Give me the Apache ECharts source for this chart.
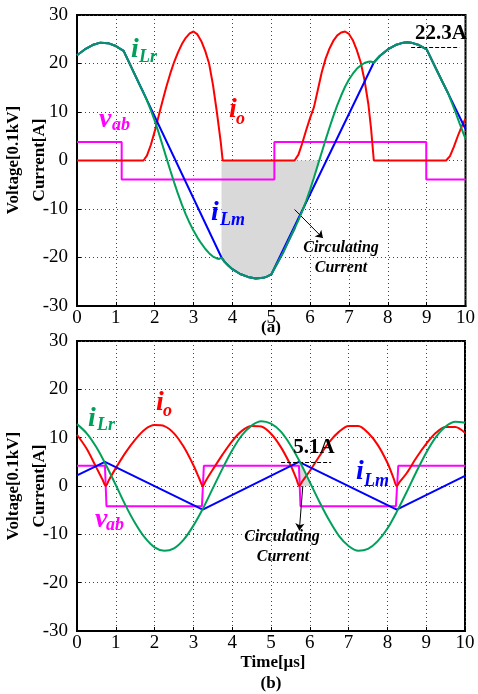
<!DOCTYPE html>
<html>
<head>
<meta charset="utf-8">
<title>LLC waveforms</title>
<script src="https://cdn.jsdelivr.net/npm/echarts@6/dist/echarts.min.js"></script>
<style>
html, body { margin: 0; padding: 0; background: #fff; }
#charts { width: 478px; height: 694px; }
</style>
</head>
<body>
<div id="charts"></div>
<script>
// ---- (a) ----  [time us, value]
var aLr = [[0,21.7],[0.2,22.9],[0.4,23.8],[0.6,24.3],[0.8,24.2],[1.0,23.6],[1.2,22.6],[1.4,19.2],[1.6,15.8],[1.7,14.2],
	[1.8,12.4],[1.9,10.4],[2.0,8.2],[2.1,5.8],[2.2,3.2],[2.3,0.6],[2.4,-2.0],[2.5,-4.5],[2.6,-6.9],[2.7,-9.1],[2.8,-11.1],
	[2.9,-12.9],[3.0,-14.5],[3.1,-15.9],[3.2,-17.1],[3.3,-18.2],[3.4,-19.1],[3.5,-19.8],[3.6,-20.2],[3.66,-20.3],[3.72,-20.0],
	[3.8,-20.9],[3.9,-21.7],[4.0,-22.4],[4.2,-23.4],[4.4,-24.0],[4.6,-24.35],[4.8,-24.2],[4.9,-23.9],[5.0,-23.5],[5.05,-23.3],
	[5.3,-19.1],[5.5,-15.7],[5.62,-13.7],[5.7,-12.3],[5.8,-10.4],[5.9,-8.3],[6.0,-6.0],[6.1,-3.5],[6.2,-0.9],[6.3,1.7],
	[6.4,4.3],[6.5,6.8],[6.6,9.2],[6.7,11.4],[6.8,13.4],[6.9,15.2],[7.0,16.7],[7.1,17.9],[7.2,18.9],[7.3,19.6],[7.4,20.1],
	[7.5,20.35],[7.56,20.4],[7.64,20.2],[7.8,21.6],[8.0,22.9],[8.2,23.8],[8.4,24.3],[8.5,24.4],[8.6,24.3],[8.8,23.8],[9.0,22.9],
	[9.2,19.6],[9.4,16.3],[9.55,13.9],[9.65,11.9],[9.75,9.8],[9.85,7.6],[9.95,5.5],[10,4.5]];
var aLm = [[0,21.7],[0.2,22.9],[0.4,23.8],[0.6,24.3],[0.8,24.2],[1.0,23.6],[1.2,22.6],[3.72,-20.0],
	[3.8,-20.9],[3.9,-21.7],[4.0,-22.4],[4.2,-23.4],[4.4,-24.0],[4.6,-24.35],[4.8,-24.2],[4.9,-23.9],[5.0,-23.5],[5.05,-23.3],
	[7.64,20.2],[7.8,21.6],[8.0,22.9],[8.2,23.8],[8.4,24.3],[8.5,24.4],[8.6,24.3],[8.8,23.8],[9.0,22.9],[10,6.5]];
var aIo = [[0,0],[1.71,0],[1.8,1.0],[1.9,3.2],[2.0,6.0],[2.1,9.1],[2.2,12.2],[2.3,15.2],[2.4,17.9],[2.5,20.3],[2.6,22.3],
	[2.7,24.0],[2.8,25.3],[2.9,26.2],[3.0,26.6],[3.1,26.0],[3.2,24.6],[3.3,22.6],[3.4,20.0],[3.5,15.6],[3.6,10.0],[3.7,3.8],
	[3.75,0],[5.6,0],[5.7,1.2],[5.8,3.6],[5.9,6.3],[6.0,8.8],[6.1,11.0],[6.2,14.6],[6.3,18.2],[6.4,21.0],[6.5,23.1],[6.6,24.7],
	[6.7,25.8],[6.8,26.4],[6.9,26.6],[7.0,26.1],[7.1,24.8],[7.2,22.8],[7.3,20.3],[7.4,16.6],[7.5,11.6],[7.57,6.5],[7.64,0],
	[9.5,0],[9.6,0.9],[9.7,2.8],[9.8,5.0],[9.9,7.0],[10,8.6]];
var aVab = [[0,3.8],[1.15,3.8],[1.15,-3.9],[5.08,-3.9],[5.08,3.8],[8.99,3.8],[8.99,-3.9],[10,-3.9]];
// time spans where iLr and iLm run together (drawn teal)
var aTogether = [[0, 1.7], [3.72, 5.62], [7.64, 9.55]];

// ---- (b) ----
var bLr = [[0,12.8],[0.25,10.9],[0.5,8.0],[0.75,4.3],[1.0,0.2],[1.25,-4.0],[1.5,-7.7],[1.75,-10.7],[2.0,-12.7],[2.25,-13.4],
	[2.5,-12.9],[2.75,-11.1],[3.0,-8.2],[3.25,-4.6],[3.5,-0.5],[3.75,3.6],[4.0,7.4],[4.25,10.5],[4.5,12.5],[4.75,13.4],
	[5.0,12.9],[5.25,11.3],[5.5,8.5],[5.75,4.9],[6.0,0.8],[6.25,-3.3],[6.5,-7.1],[6.75,-10.3],[7.0,-12.4],[7.25,-13.4],
	[7.5,-13.0],[7.75,-11.4],[8.0,-8.8],[8.25,-5.2],[8.5,-1.2],[8.75,3.0],[9.0,6.9],[9.25,10.1],[9.5,12.3],[9.75,13.3],[10,13.1]];
var bLm = [[0,2.2],[0.72,5.0],[3.24,-4.9],[5.72,5.0],[8.24,-4.9],[10,2.1]];
var bIo = [[0,10.6],[0.25,7.7],[0.5,3.8],[0.66,1.3],[0.74,0],[0.82,1.2],[1.0,3.7],[1.25,6.9],[1.5,9.6],[1.75,11.7],[2.0,12.6],
	[2.25,12.4],[2.5,10.9],[2.75,8.1],[3.0,4.3],[3.16,1.4],[3.24,0],[3.32,1.1],[3.5,3.4],[3.75,6.5],[4.0,9.3],[4.25,11.4],
	[4.5,12.4],[4.75,12.3],[5.0,10.8],[5.25,8.1],[5.5,4.4],[5.65,1.6],[5.73,0],[5.81,1.0],[6.0,3.1],[6.25,6.2],[6.5,9.1],
	[6.75,11.2],[7.0,12.4],[7.25,12.4],[7.5,11.0],[7.75,8.5],[8.0,4.8],[8.16,1.6],[8.24,0],[8.32,0.9],[8.5,2.7],[8.75,5.9],
	[9.0,8.7],[9.25,11.0],[9.5,12.2],[9.75,12.2],[10,11.0]];
var bVab = [[0,4.2],[0.72,4.2],[0.76,-4.2],[3.22,-4.2],[3.27,4.2],[5.72,4.2],[5.76,-4.2],[8.22,-4.2],[8.28,4.2],[10,4.2]];
var bShade = [[5.72,4.9],[5.85,2.8],[6.04,0]];

var xTicks = [0, 10, 1];   // min, max, step
var yTicks = [-30, 30, 10];

var SERIF = '"Liberation Serif", "Times New Roman", serif';
var RED = '#ff0000', BLUE = '#0000ff', GREEN = '#00a05a', TEAL = '#0e8c72', MAG = '#ff00ff';

var myChart;

function axisX(gi) {
	return {
		type: 'value', gridIndex: gi, min: xTicks[0], max: xTicks[1], interval: xTicks[2],
		axisLine: { show: true, onZero: false, lineStyle: { color: '#000', width: 2 } },
		axisTick: { show: true, inside: true, length: 4, lineStyle: { color: '#000' } },
		axisLabel: { color: '#000', fontFamily: SERIF, fontSize: 19, margin: 3, showMinLabel: true, showMaxLabel: true },
		splitLine: { show: true, lineStyle: { color: '#444', type: [1, 3], width: 1 } }
	};
}

function axisY(gi) {
	return {
		type: 'value', gridIndex: gi, min: yTicks[0], max: yTicks[1], interval: yTicks[2],
		axisLine: { show: true, onZero: false, lineStyle: { color: '#000', width: 2 } },
		axisTick: { show: true, inside: true, length: 4, lineStyle: { color: '#000' } },
		axisLabel: { color: '#000', fontFamily: SERIF, fontSize: 19, margin: 9, showMinLabel: true, showMaxLabel: true },
		splitLine: { show: true, lineStyle: { color: '#444', type: [1, 3], width: 1 } }
	};
}

function line(gi, data, color, smooth, z) {
	return {
		type: 'line', xAxisIndex: gi, yAxisIndex: gi, data: data, showSymbol: false, symbol: 'none',
		smooth: smooth, z: z,
		lineStyle: { color: color, width: 2 }, silent: true
	};
}

function shade(gi, data) {
	return {
		type: 'line', xAxisIndex: gi, yAxisIndex: gi, data: data, showSymbol: false, symbol: 'none', z: 1,
		lineStyle: { width: 0 }, silent: true,
		areaStyle: { color: '#d9d9d9', opacity: 1 }
	};
}

function marks(list) {
	// list of [x1,y1,x2,y2,dashed]
	return {
		silent: true, animation: false, label: { show: false }, symbol: ['none', 'none'],
		data: list.map(function(m) {
			return [
				{ coord: [m[0], m[1]], symbol: 'none', lineStyle: { color: '#000', width: 1, type: m[4] ? [4, 2] : 'solid' } },
				{ coord: [m[2], m[3]], symbol: m[4] ? 'none' : 'arrow', symbolSize: 7 }
			];
		})
	};
}

function txt(x, y, s, font, color, rot) {
	return {
		type: 'text', x: x, y: y, rotation: rot || 0, z: 100,
		style: { text: s, font: font, fill: color || '#000', align: 'center', verticalAlign: 'middle', lineHeight: 26 }
	};
}

// main letter + subscript
function tag(x, y, main, sx, sy, sub, color) {
	return {
		type: 'group', z: 100, children: [
			{ type: 'text', z: 100, x: x, y: y, style: { text: main, font: 'italic bold 28px ' + SERIF, fill: color, align: 'left', verticalAlign: 'middle' } },
			{ type: 'text', z: 100, x: sx, y: sy, style: { text: sub, font: 'italic bold 18px ' + SERIF, fill: color, align: 'left', verticalAlign: 'middle' } }
		]
	};
}

function initChart() {
	myChart = echarts.init(document.getElementById('charts'), null, { renderer: 'canvas' });

	// shaded circulating-current area in (a): green curve between 3.72 and its zero crossing
	var aShade = aLr.filter(function(p) { return p[0] >= 3.72 && p[0] <= 6.2; });
	aShade.push([6.235, 0]);

	var redA = line(0, aIo, RED, false, 3);
	redA.markLine = marks([[5.6, -10.1, 6.33, -16.0, false], [8.6, 23.3, 9.84, 23.3, true]]);
	var redB = line(1, bIo, RED, 0.3, 3);
	redB.markLine = marks([[5.82, 0, 5.73, -9.2, false], [5.26, 4.83, 6.55, 4.83, true]]);

	var series = [
		shade(0, aShade),
		line(0, aVab, MAG, false, 2),
		redA,
		line(0, aLm, BLUE, false, 4),
		line(0, aLr, GREEN, false, 5),
		shade(1, bShade),
		line(1, bVab, MAG, false, 2),
		redB,
		line(1, bLm, BLUE, false, 4),
		line(1, bLr, GREEN, 0.3, 5)
	];
	// overlapping parts of iLr / iLm look teal
	aTogether.forEach(function(r) {
		series.push(line(0, aLr.filter(function(p) { return p[0] >= r[0] && p[0] <= r[1]; }), TEAL, false, 6));
	});

	var bold = 'bold 17px ' + SERIF;
	var bi = 'italic bold 16px ' + SERIF;

	var option = {
		animation: false,
		backgroundColor: '#fff',
		grid: [
			{ left: 77, right: 12, top: 15, height: 291, show: true, borderColor: '#000', borderWidth: 2 },
			{ left: 77, right: 13, top: 341, height: 290, show: true, borderColor: '#000', borderWidth: 2 }
		],
		xAxis: [axisX(0), axisX(1)],
		yAxis: [axisY(0), axisY(1)],
		series: series,
		graphic: [
			txt(27, 160, 'Voltage[0.1kV]\nCurrent[A]', bold, '#000', Math.PI / 2),
			txt(27, 486, 'Voltage[0.1kV]\nCurrent[A]', bold, '#000', Math.PI / 2),
			txt(271, 328, '(a)', bold),
			txt(273, 663, 'Time[\u03bcs]', bold),
			txt(271, 684, '(b)', bold),
			txt(441, 34, '22.3A', 'bold 21px ' + SERIF),
			txt(314, 448, '5.1A', 'bold 21px ' + SERIF),
			txt(341, 248, 'Circulating', bi),
			txt(341, 268, 'Current', bi),
			txt(282, 537, 'Circulating', bi),
			txt(283, 557, 'Current', bi),
			tag(131, 50, 'i', 139, 57, 'Lr', GREEN),
			tag(229, 110, 'i', 236, 119, 'o', RED),
			tag(99, 120, 'v', 112, 125, 'ab', MAG),
			tag(211, 213, 'i', 220, 220, 'Lm', BLUE),
			tag(88, 419, 'i', 97, 425, 'Lr', GREEN),
			tag(156, 403, 'i', 163, 411, 'o', RED),
			tag(95, 520, 'v', 106, 525, 'ab', MAG),
			tag(356, 472, 'i', 364, 481, 'Lm', BLUE)
		]
	};
	myChart.setOption(option);
}

initChart();
</script>
</body>
</html>
